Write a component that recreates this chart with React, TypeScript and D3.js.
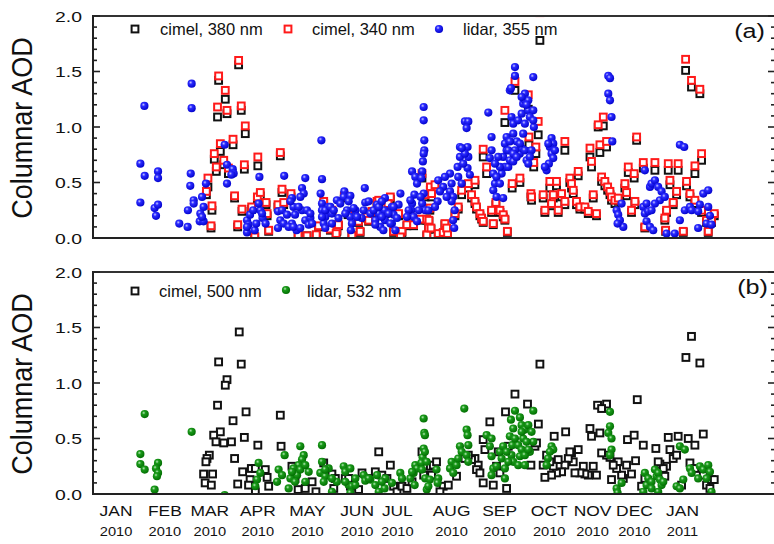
import React from 'react';
import * as d3 from 'd3';

// day index = days since 1 Jan 2010
const lidar355: [number, number][] = [
[33.8,1.19],[31.2,0.67],[34,0.56],[31.2,0.32],[42.6,0.60],[42.6,0.54],[40.4,0.27],[42.6,0.30],[41.3,0.20],[56.3,0.13],[61.7,0.10],[64.3,1.39],[64.3,1.17],[63.7,0.58],[63.4,0.47],[65.6,0.34],[65.6,0.31],[61.9,0.25],[71,0.37],[73.5,0.49],[72,0.28],[69.9,0.22],[69.5,0.15],[72,0.15],[71,0.19],[85.6,0.84],[87.1,0.66],[87.1,0.49],[90.8,0.62],[91.4,0.58],[89.9,0.57],[108,0.55],[124,0.56],[100,0.16],[101,0.12],[100,0.05],[105,0.07],[106,0.13],[110,0.18],[108.6,0.25],[107.5,0.31],[109.7,0.22],[120,0.24],[121.5,0.16],[120,0.09],[123.7,0.13],[129,0.36],[130,0.28],[131,0.21],[129,0.13],[132,0.07],[135.5,0.45],[136.6,0.40],[137.6,0.54],[135.5,0.25],[137.6,0.16],[139.8,0.12],[140.9,0.18],[148,0.88],[148.4,0.53],[147.5,0.40],[148.4,0.31],[148.4,0.25],[150.5,0.19],[152.7,0.28],[149.5,0.13],[154.8,0.22],[158,0.34],[162.8,0.42],[162.4,0.37],[166.7,0.38],[164.5,0.25],[166.7,0.19],[167.7,0.13],[170,0.25],[167,0.07],[176,0.45],[176.3,0.32],[175.3,0.25],[174,0.18],[179.6,0.22],[183.9,0.30],[185,0.22],[182.8,0.16],[186,0.10],[189,0.36],[188.8,0.25],[189,0.16],[188,0.07],[193.5,0.28],[194.6,0.21],[193.5,0.13],[195.7,0.07],[199,0.40],[197.8,0.30],[206.5,0.60],[208.6,0.55],[209.7,0.49],[208,0.39],[206.5,0.31],[206,0.25],[207.5,0.19],[209.7,0.15],[214,1.18],[214,1.06],[214.4,0.88],[214.4,0.79],[214,0.76],[213.5,0.69],[213,0.60],[212.5,0.54],[214,0.40],[213,0.31],[215,0.25],[212,0.37],
[102,0.21],[112,0.13],[104,0.25],[100,0.10],[122.6,0.25],[125.8,0.21],[128,0.33],[133.3,0.28],[134.4,0.37],[138.7,0.25],[140.9,0.22],[142,0.13],[126.9,0.10],[130,0.10],[134.4,0.09],[148.4,0.19],[150.5,0.25],[153.8,0.28],[156,0.25],[160.2,0.31],[163.4,0.22],[165.6,0.33],[168.8,0.27],[171,0.19],[159,0.18],[154.8,0.13],[150.5,0.09],[178.5,0.33],[181.7,0.25],[185,0.28],[187,0.19],[191.4,0.22],[194.6,0.28],[196.8,0.18],[182.8,0.12],[187,0.33],[192.5,0.13],[204.3,0.25],[205.4,0.34],[210.8,0.25],[203.2,0.19],
[223.4,0.52],[223,0.33],[221.3,0.28],[217,0.25],[231,0.58],[232,0.49],[231,0.42],[233,0.37],[232,0.33],[234,0.25],[233,0.16],[233.7,0.09],[236.3,0.55],[235.9,0.64],[237.4,0.73],[237.4,0.82],[238.5,0.49],[240.6,1.05],[242.8,1.05],[241.7,0.99],[242.3,0.82],[242.8,0.73],[242.3,0.63],[243.8,0.57],[255.7,1.13],[257.8,0.91],[257.8,0.79],[256.7,0.72],[260,0.49],[258.9,0.43],[261,0.37],[265.3,0.36],[264.3,0.58],[266.4,0.64],[265.3,0.73],[267.5,0.79],[269.6,1.33],[270.3,1.35],[272.9,1.54],[272.9,1.46],[270.7,1.09],[271.8,1.03],[271.8,0.94],[274,0.87],[275,1.06],[277.2,1.12],[278.2,1.21],[279.3,1.30],[279.3,1.24],[281.5,1.24],[276,0.76],[277.2,0.81],[279.3,0.79],[280.4,0.70],[281.5,1.15],[284.7,1.15],[284.7,1.45],[285.1,1.00],[283.6,0.79],[282.5,0.73],[281.5,0.67],[267.5,0.91],[268.6,0.64],[269.6,0.70],[271.8,0.69],[272.9,0.79],[262.1,0.73],[263.2,0.64],[296.5,0.90],[297.6,0.85],[295.4,0.82],[296.5,0.76],[297.6,0.72],[294.8,0.67],[293.3,0.61],[292.2,0.64],
[227.7,0.55],[226.6,0.46],[228.8,0.37],[224.5,0.42],[239.5,0.67],[240.6,0.76],[238.5,0.81],[258.9,0.58],[261,0.55],[263.2,0.49],[260,0.67],[266.4,0.85],[268.6,0.79],[269.6,0.87],[271.8,0.76],[274,0.73],[276.1,0.85],[278.2,0.94],[279.3,1.03],[277.2,1.27],[280.4,1.20],[282.5,1.09],[284.7,1.06],[294.4,0.85],[298.7,0.79],
[333.1,1.46],[334.2,1.44],[333.1,1.30],[334.2,1.24],[335.2,1.09],[335.7,0.87],[338.5,0.25],[339.5,0.21],[340.6,0.16],[342.8,0.10],[341.7,0.31],[339.1,0.13],[355.7,0.28],[356.7,0.22],[357.8,0.31],[358.9,0.24],[356.7,0.61],[360,0.46],[361,0.49],[363.2,0.52],[365.3,0.46],[367.5,0.42],[366.4,0.34],[363.2,0.31],[361,0.25],[357.8,0.15],[360,0.10],[362.1,0.07],[369.6,0.37],[370.7,0.04],[376,0.04],[379.3,0.84],[382.1,0.82],[379.3,0.16],[382.5,0.25],[385.8,0.28],[386.9,0.25],[392.2,0.30],[391.1,0.24],[391.1,0.09],[394.4,0.40],[397.6,0.43],[396.5,0.13],[399.7,0.12],[397.6,0.28],[398.7,0.20]
];

// [day, AOD 380 nm, AOD 340 nm]
const cimelUV: [number, number, number][] = [
[81.7,1.42,1.46],[86,1.25,1.33],[81,1.09,1.18],[87.1,1.12,1.15],[94.6,1.56,1.60],[96.3,1.15,1.19],[98.9,0.94,1.01],[82.8,0.78,0.85],[91,0.84,0.89],[78.9,0.71,0.76],[85,0.66,0.70],[80.2,0.60,0.64],[88,0.58,0.63],[98.3,0.62,0.66],[107,0.65,0.73],[121.5,0.74,0.77],[74.8,0.46,0.54],[73.8,0.39,0.42],[77.4,0.25,0.29],[76.8,0.09,0.11],[92,0.36,0.38],[96.8,0.24,0.26],[94,0.10,0.12],[103,0.26,0.28],[106.7,0.34,0.37],[108.6,0.38,0.41],[112.3,0.30,0.32],[113,0.20,0.22],[114,0.06,0.07],[105,0.01,0.01],[120,0.28,0.30],[123.7,0.30,0.32],[122.6,0.41,0.44],[128.4,0.37,0.40],[133,0.02,0.03],[138.7,0.02,0.02],[144.7,0.02,0.03],[146.2,0.10,0.11],[149.5,0.31,0.33],[154.8,0.23,0.25],[153.8,0.07,0.08],[158,0.06,0.07],[159,0.11,0.12],[157.5,0.03,0.04],[162.8,0.36,0.38],[165.2,0.21,0.23],[167.7,0.02,0.02],[172,0.14,0.15],[173,0.05,0.06],[177.4,0.18,0.19],[178.5,0.15,0.16],[180.6,0.22,0.24],[183.9,0.31,0.33],[185,0.32,0.34],[189.2,0.22,0.24],[192.5,0.35,0.37],[191,0.29,0.31],[194.6,0.05,0.06],[197.8,0.20,0.22],[200,0.05,0.06],[203.2,0.11,0.12],[199,0.01,0.01],[207.5,0.11,0.12],[211.8,0.16,0.17],[212.9,0.54,0.58],[216,0.02,0.03],[216,0.16,0.17],[217.2,0.08,0.09],[218.3,0.43,0.46],[215,0.37,0.39],
[289,1.78,2.03],[221.3,0.45,0.48],[219.1,0.37,0.40],[218,0.25,0.27],[218.7,0.08,0.09],[217.4,0.15,0.16],[223.4,0.03,0.04],[226.6,0.04,0.05],[229.4,0.03,0.04],[227.7,0.12,0.13],[228.8,0.08,0.09],[234.2,0.20,0.22],[236.3,0.26,0.28],[238.5,0.39,0.43],[242.8,0.45,0.49],[247.1,0.48,0.52],[244.9,0.36,0.39],[247.1,0.31,0.33],[248.1,0.26,0.28],[250.3,0.20,0.22],[251.4,0.17,0.18],[252.4,0.14,0.15],[257.8,0.23,0.25],[258.9,0.12,0.13],[260.6,0.30,0.32],[263.2,0.23,0.25],[265.3,0.19,0.21],[266.4,0.16,0.17],[268,0.05,0.06],[252.4,0.73,0.80],[254.6,0.58,0.64],[266.4,1.04,1.15],[272.9,1.33,1.41],[281.5,1.16,1.29],[287.9,0.93,1.05],[281.9,0.84,0.91],[286.4,0.76,0.82],[285,0.64,0.68],[271.1,0.45,0.49],[276.1,0.50,0.54],[283.2,0.37,0.40],[283.6,0.34,0.37],[291.1,0.36,0.39],[292.2,0.23,0.25],[295.4,0.45,0.51],[299.7,0.47,0.51],[297.6,0.36,0.39],[296.5,0.29,0.31],[300.8,0.23,0.25],[303,0.37,0.40],[305.1,0.79,0.87],[305.1,0.30,0.33],[308.3,0.50,0.54],[309.4,0.45,0.49],[310.5,0.40,0.43],[313.7,0.56,0.60],[312.6,0.30,0.33],[314.8,0.26,0.28],[318,0.26,0.28],[320.2,0.22,0.24],[323.4,0.36,0.39],[325.5,0.20,0.22],[321.3,0.73,0.81],[322.3,0.64,0.69],[326.6,1.00,1.02],[329.9,1.01,1.09],[327.7,0.77,0.84],[332,0.82,0.87],[328.8,0.51,0.55],[330.9,0.47,0.51],[332.7,0.43,0.46],[334.2,0.39,0.42],[335.2,0.34,0.37],[337.4,0.31,0.34],[339.5,0.33,0.36],[343.8,0.45,0.49],[344.9,0.38,0.41],[346,0.59,0.64],[349.8,0.54,0.58],[348.1,0.23,0.25],[350.3,0.30,0.33],[351.4,0.88,0.91],[355.7,0.63,0.68],[363.2,0.61,0.68],[371.8,0.61,0.67],[378.2,0.61,0.67],[372.9,0.48,0.52],[377.2,0.39,0.42],[375,0.30,0.32],[370.7,0.23,0.25],[369.6,0.16,0.18],[370.1,0.06,0.07],[381.5,0.05,0.06],[383.6,0.47,0.51],[389,0.58,0.65],[393.3,0.70,0.76],[385.8,0.37,0.40],[389,0.31,0.34],[393.3,0.23,0.25],[396.5,0.14,0.16],[399.7,0.14,0.16],[401.5,0.20,0.22],[397.6,0.05,0.06],[383,1.51,1.61],[386.8,1.36,1.42],[392.2,1.30,1.34],[356.7,0.09,0.10]
];

const cimel500: [number, number][] = [
[95,1.46],[81.7,1.19],[96.3,1.17],[87.1,1.03],[86,0.98],[81,0.80],[99.4,0.74],[91,0.66],[121.5,0.71],[82.8,0.56],[78.5,0.53],[80,0.47],[85,0.46],[90,0.47],[98.3,0.51],[107,0.44],[122,0.43],[75.7,0.35],[74.2,0.32],[73.5,0.29],[92,0.32],[72,0.18],[77.8,0.18],[73,0.10],[77,0.08],[97.2,0.20],[94,0.09],[102.8,0.23],[105.4,0.23],[111.8,0.22],[102,0.13],[105.4,0.02],[114,0.07],[101,0.08],[113,0.15],[129,0.25],[131,0.14],[133,0.04],[137.6,0.05],[142,0.11],[144.5,0.02],[149.5,0.28],[154.8,0.18],[157,0.14],[156,0.05],[163.4,0.14],[165.6,0.14],[166.7,0.07],[174.2,0.19],[172,0.04],[177.4,0.14],[182.8,0.20],[185,0.38],[187,0.17],[190.3,0.14],[192.5,0.26],[194.6,0.07],[196.8,0.02],[200,0.07],[203.2,0.05],[206.5,0.11],[212.9,0.38],[214,0.17],[218.3,0.25],
[289,1.17],[272.9,0.90],[281,0.81],[266.8,0.74],[288,0.63],[256.7,0.65],[252.4,0.49],[253.5,0.40],[262.1,0.38],[268.6,0.43],[285.8,0.43],[283.2,0.26],[298.2,0.52],[305.6,0.56],[321.3,0.59],[322.3,0.52],[326.2,0.80],[332,0.81],[328.8,0.77],[327.7,0.55],[351.8,0.85],[345.5,0.49],[349.8,0.53],[355.7,0.44],[363.8,0.41],[371.8,0.51],[378.2,0.52],[384.7,0.50],[372.9,0.40],[375,0.32],[377.2,0.35],[389,0.44],[394.4,0.54],[386.8,1.42],[383.2,1.23],[392.2,1.18],[385.8,0.28],[389,0.23],[394.4,0.17],[396.5,0.08],[399.7,0.13],[401.5,0.13],[398.7,0.05],[380.4,0.08],[369.6,0.16],[370.7,0.25],[366.4,0.27],[368.6,0.23],[365.3,0.29],[354.6,0.07],[356.7,0.14],[350.7,0.30],[348.1,0.18],[342.8,0.14],[341.7,0.17],[344.9,0.26],[339.5,0.29],[338.5,0.23],[336.3,0.26],[334.2,0.33],[332,0.35],[328.8,0.37],[335.2,0.13],[323.4,0.25],[325.5,0.17],[317,0.25],[320.2,0.17],[318,0.18],[314.8,0.19],[313.7,0.40],[309.4,0.37],[310.5,0.29],[307.3,0.32],[308.3,0.38],[311.6,0.19],[305.1,0.26],[303,0.20],[300.8,0.31],[299.7,0.19],[297.6,0.25],[295.4,0.29],[293.3,0.35],[296.5,0.17],[292.2,0.15],[291.1,0.26],[286.8,0.46],[247.1,0.32],[249.2,0.26],[248.1,0.22],[250.3,0.19],[252.4,0.10],[244.9,0.31],[242.8,0.35],[240.6,0.32],[258.9,0.08],[261,0.25],[263.2,0.19],[267.5,0.05],[235.2,0.16],[226.6,0.07],[229.9,0.08],[224.5,0.02],[220.2,0.26],[222.3,0.29],[219.1,0.17]
];

const lidar532: [number, number][] = [
[34,0.72],[31.2,0.36],[31.2,0.27],[34,0.22],[42.6,0.28],[41.3,0.23],[42.6,0.19],[41.9,0.16],[40.4,0.04],[64.3,0.56],[85.6,-0.01],[107.5,0.28],[108.6,0.19],[106.5,0.13],[105.4,0.07],[124.3,0.35],[120.4,0.22],[122.6,0.17],[119.4,0.11],[134.4,0.43],[136.6,0.35],[135.5,0.31],[133.3,0.26],[130,0.23],[132.3,0.17],[128,0.14],[131,0.11],[126.9,0.05],[139.8,0.20],[137.6,0.11],[148.4,0.44],[148.4,0.29],[147.3,0.19],[150.5,0.16],[149.5,0.11],[152.7,0.23],[154.8,0.02],[158,0.11],[162.4,0.25],[163.4,0.20],[166.7,0.23],[165.6,0.08],[167.7,0.07],[169.9,0.08],[166.7,0.01],[175.3,0.17],[176.3,0.12],[179.6,0.13],[183.9,0.17],[182.8,0.08],[185,0.02],[189.2,0.14],[188.8,0.05],[193.5,0.10],[198.9,0.19],[205.4,0.14],[207.5,0.19],[208.6,0.26],[209.7,0.23],[208.2,0.08],[214,0.68],[214.4,0.55],[214,0.41],[213.3,0.33],[212.5,0.28],[212.9,0.22],[215,0.14],[216,0.04],
[129,0.20],[134.4,0.22],[137.6,0.26],[150.5,0.22],[154.8,0.14],[163.4,0.11],[169.9,0.14],[178.5,0.14],[187,0.11],[200,0.14],[206.5,0.20],
[240.2,0.77],[214.8,0.53],[214.8,0.38],[215.9,0.29],[222.3,0.22],[223.4,0.14],[223,0.10],[218,0.13],[217,0.07],[232,0.29],[231,0.23],[235.2,0.26],[236.3,0.32],[237.4,0.43],[238.5,0.38],[241.7,0.58],[242.3,0.53],[242.8,0.44],[241.7,0.35],[242.8,0.29],[233.1,0.19],[254.6,0.53],[257.8,0.50],[256.7,0.43],[257.8,0.34],[258.9,0.23],[257.8,0.17],[261,0.25],[266.4,0.23],[266.4,0.14],[264.3,0.32],[263.2,0.38],[265.3,0.43],[272.9,0.75],[270.3,0.67],[271.8,0.59],[269.6,0.52],[271.1,0.44],[270.7,0.35],[271.8,0.29],[276.1,0.69],[277.2,0.62],[279.3,0.58],[281.5,0.62],[284.7,0.75],[283.6,0.56],[284.7,0.47],[282.5,0.38],[275,0.44],[277.2,0.40],[278.2,0.50],[276.1,0.34],[272.9,0.50],[279.3,0.35],[296.5,0.43],[297.6,0.40],[295.4,0.38],[294.2,0.32],[293.3,0.26],
[267.5,0.38],[277.2,0.56],[280.4,0.47],[281.5,0.40],[268.6,0.29],[275,0.26],[279.3,0.26],
[334.2,0.74],[334.2,0.61],[333.1,0.55],[335.2,0.50],[335.2,0.40],[334.2,0.35],[338.5,0.05],[339.1,0.01],[341.7,0.10],[355.7,0.02],[356.7,0.19],[357.8,0.08],[358.9,0.14],[361,0.11],[363.2,0.22],[364.3,0.16],[365.3,0.19],[366.4,0.13],[367.5,0.08],[365.3,0.02],[368.6,0.11],[361,0.05],[379.3,0.43],[382.5,0.40],[377.2,0.07],[379.3,0.05],[381.5,0.13],[385.8,0.23],[386.9,0.19],[392.2,0.25],[394.4,0.22],[397.6,0.26],[398.7,0.20],[391.1,0.14],[396.5,0.14],[399.7,0.02]
];

const monthNames = ['JAN','FEB','MAR','APR','MAY','JUN','JUL','AUG','SEP','OCT','NOV','DEC','JAN'];
const monthYears = ['2010','2010','2010','2010','2010','2010','2010','2010','2010','2010','2010','2010','2011'];
const monthLabelDays = [15.5, 47, 76, 107, 139, 171, 197, 232, 263, 295, 323, 350, 381];
const yMajorTicks = [0, 0.5, 1.0, 1.5, 2.0];
const yMinorTicks = d3.range(0, 21).map(i => i / 10);

const FONT = "Liberation Sans, Arimo, Arial, sans-serif";
const W = 774, H = 544;
const X0 = 92, X1 = 776;

const x = d3.scaleLinear().domain([0, 441]).range([92, 775.5]);

const Square = ({ cx, cy, color }: { cx: number; cy: number; color: string }) => (
  <rect x={cx - 3.4} y={cy - 3.4} width={6.8} height={6.8} fill="white" stroke={color} strokeWidth={2} />
);
const Ball = ({ cx, cy, grad }: { cx: number; cy: number; grad: string }) => (
  <circle cx={cx} cy={cy} r={4.1} fill={`url(#${grad})`} />
);

function Panel({ top, bottom, id, label, children, ytitle }: any) {
  const y = d3.scaleLinear().domain([0, 2]).range([bottom, top]);
  return (
    <g>
      <defs>
        <clipPath id={`clip-${id}`}>
          <rect x={X0 + 1} y={top} width={X1 - X0} height={bottom - top} />
        </clipPath>
      </defs>
      <g clipPath={`url(#clip-${id})`}>{children(y)}</g>
      <line x1={X0} x2={X1} y1={top} y2={top} stroke="#333" strokeWidth={2} />
      <line x1={X0} x2={X1} y1={bottom} y2={bottom} stroke="#222" strokeWidth={2} />
      <line x1={X0 + 1} x2={X0 + 1} y1={top} y2={bottom} stroke="#222" strokeWidth={2} />
      <line x1={X1} x2={X1} y1={top} y2={bottom} stroke="#222" strokeWidth={2} />
      {yMinorTicks.map(t => {
        const major = Math.abs(t * 2 - Math.round(t * 2)) < 1e-6;
        const len = major ? 8 : 5;
        return (
          <g key={t}>
            <line x1={X0} x2={X0 + len} y1={y(t)} y2={y(t)} stroke="#222" strokeWidth={1.6} />
            <line x1={X1 - len} x2={X1} y1={y(t)} y2={y(t)} stroke="#222" strokeWidth={1.6} />
          </g>
        );
      })}
      {yMajorTicks.map(t => (
        <text key={t} transform={`translate(82,${y(t)}) scale(1.25,1)`} dy="0.36em" textAnchor="end"
          fontFamily={FONT} fontSize={15.5} fill="#111">{t.toFixed(1)}</text>
      ))}
      <text transform={`translate(32,${(top + bottom) / 2 + 1}) scale(1.1,1) rotate(-90)`} textAnchor="middle"
        fontFamily={FONT} fontSize={27} fill="#111">{ytitle}</text>
      <text transform={`translate(${label.x},${top + 22}) scale(1.2,1)`} textAnchor="end"
        fontFamily={FONT} fontSize={21} fill="#111">{label.text}</text>
    </g>
  );
}

export default function App() {
  const topY = { top: 16, bottom: 238 };
  const botY = { top: 272, bottom: 494 };
  return (
    <svg width={W} height={H} style={{ position: 'absolute', left: 0, top: 0, background: 'white' }}>
      <defs>
        <radialGradient id="gBlue" cx="38%" cy="35%" r="70%">
          <stop offset="0%" stopColor="#c8c8ff" />
          <stop offset="30%" stopColor="#2a2aff" />
          <stop offset="100%" stopColor="#0000c8" />
        </radialGradient>
        <radialGradient id="gGreen" cx="38%" cy="35%" r="70%">
          <stop offset="0%" stopColor="#b8e8b8" />
          <stop offset="30%" stopColor="#1a9a1a" />
          <stop offset="100%" stopColor="#006a00" />
        </radialGradient>
      </defs>
      <rect width={W} height={H} fill="white" />

      <Panel id="a" top={topY.top} bottom={topY.bottom} ytitle="Columnar AOD" label={{ x: 765, text: '(a)' }}>
        {(y: any) => (
          <g>
            {cimelUV.map((d, i) => <Square key={'k' + i} cx={x(d[0])} cy={y(d[1])} color="#111" />)}
            {cimelUV.map((d, i) => <Square key={'r' + i} cx={x(d[0])} cy={y(d[2])} color="#ff1a1a" />)}
            {lidar355.map((d, i) => <Ball key={'b' + i} cx={x(d[0])} cy={y(d[1])} grad="gBlue" />)}
          </g>
        )}
      </Panel>

      <Panel id="b" top={botY.top} bottom={botY.bottom} ytitle="Columnar AOD" label={{ x: 768, text: '(b)' }}>
        {(y: any) => (
          <g>
            {cimel500.map((d, i) => <Square key={'c' + i} cx={x(d[0])} cy={y(d[1])} color="#111" />)}
            {lidar532.map((d, i) => <Ball key={'g' + i} cx={x(d[0])} cy={y(d[1])} grad="gGreen" />)}
          </g>
        )}
      </Panel>

      <g fontFamily={FONT} fontSize={16.5} fill="#111">
        <Square cx={135} cy={29} color="#111" />
        <text x={160} y={35}>cimel, 380 nm</text>
        <Square cx={288} cy={29} color="#ff1a1a" />
        <text x={312} y={35}>cimel, 340 nm</text>
        <Ball cx={439} cy={29} grad="gBlue" />
        <text x={463} y={35}>lidar, 355 nm</text>

        <Square cx={135} cy={291} color="#111" />
        <text x={159} y={297}>cimel, 500 nm</text>
        <Ball cx={286} cy={290} grad="gGreen" />
        <text x={307} y={297}>lidar, 532 nm</text>
      </g>

      {monthNames.map((m, i) => (
        <g key={i} transform={`translate(${x(monthLabelDays[i])},0)`} fontFamily={FONT} fill="#111">
          <text transform="translate(0,516) scale(1.2,1)" textAnchor="middle" fontSize={14.5}>{m}</text>
          <text transform="translate(0,536) scale(1.22,1)" textAnchor="middle" fontSize={12}>{monthYears[i]}</text>
        </g>
      ))}
    </svg>
  );
}
